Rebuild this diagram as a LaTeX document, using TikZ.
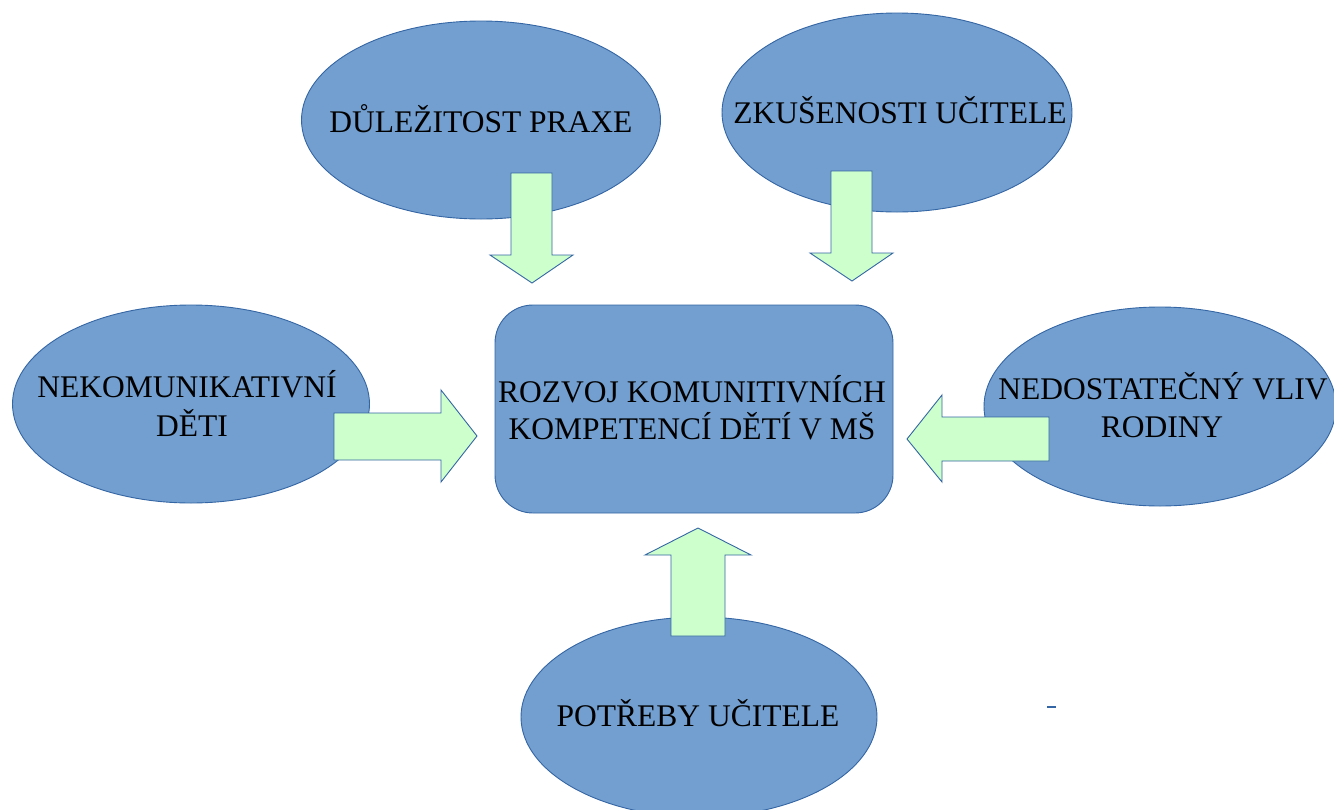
\documentclass[tikz,border=0pt]{standalone}
\usepackage{fontspec}
\setmainfont{Liberation Serif}
\usetikzlibrary{shapes.geometric}
\definecolor{ellfill}{HTML}{729FCF}
\definecolor{ellline}{HTML}{3465A4}
\definecolor{arrfill}{HTML}{CCFFCC}
\tikzset{
  ell/.style={ellipse, draw=ellline, fill=ellfill, line width=0.9pt, inner sep=0pt},
  box/.style={rectangle, rounded corners=38pt, draw=ellline, fill=ellfill, line width=0.9pt, inner sep=0pt},
  blockarrow/.style={draw=ellline, fill=arrfill, line width=0.9pt, line join=miter},
  lbl/.style={font=\fontsize{31.5}{37}\selectfont, text=black, inner sep=0pt, anchor=base}
}
\begin{document}
\begin{tikzpicture}[x=1pt,y=-1pt]
\useasboundingbox (0,0) rectangle (1334,809);
\clip (0,0) rectangle (1334,809);
% ellipses
\node[ell, minimum width=359pt, minimum height=198pt] (e1) at (481,120) {};
\node[ell, minimum width=350pt, minimum height=199pt] (e2) at (897,112.5) {};
\node[ell, minimum width=357pt, minimum height=198pt] (e3) at (191,404) {};
\node[ell, minimum width=352pt, minimum height=199pt] (e4) at (1160,406.5) {};
\node[ell, minimum width=356pt, minimum height=200pt] (e5) at (699,717) {};
% central box
\node[box, minimum width=398pt, minimum height=208pt] (c) at (694,409) {};
% block arrows
\draw[blockarrow] (511,173) -- (552,173) -- (552,255) -- (573,255) -- (532,283) -- (490,255) -- (511,255) -- cycle;
\draw[blockarrow] (831,171) -- (872,171) -- (872,253) -- (893,253) -- (852,281) -- (810,253) -- (831,253) -- cycle;
\draw[blockarrow] (334,413) -- (441,413) -- (441,390) -- (477,436) -- (441,482) -- (441,460) -- (334,460) -- cycle;
\draw[blockarrow] (1049,417) -- (942,417) -- (942,395) -- (907,439) -- (942,482) -- (942,461) -- (1049,461) -- cycle;
\draw[blockarrow] (671,636) -- (671,555) -- (645,555) -- (698,528) -- (751,555) -- (725,555) -- (725,636) -- cycle;
% labels
\node[lbl] (t1) at (481,132) {DŮLEŽITOST PRAXE};
\node[lbl] (t2) at (900,123) {ZKUŠENOSTI UČITELE};
\node[lbl] (t3a) at (187,397) {NEKOMUNIKATIVNÍ};
\node[lbl] (t3b) at (192,436) {DĚTI};
\node[lbl] (t4a) at (1163,399) {NEDOSTATEČNÝ VLIV};
\node[lbl] (t4b) at (1162,437) {RODINY};
\node[lbl] (t5) at (698,726) {POTŘEBY UČITELE};
\node[lbl] (tca) at (692,402) {ROZVOJ KOMUNITIVNÍCH};
\node[lbl] (tcb) at (692,439) {KOMPETENCÍ DĚTÍ V MŠ};
% stray mark
\draw[ellline, line width=1.5pt] (1047,707) -- (1056,707);
\end{tikzpicture}
\end{document}
